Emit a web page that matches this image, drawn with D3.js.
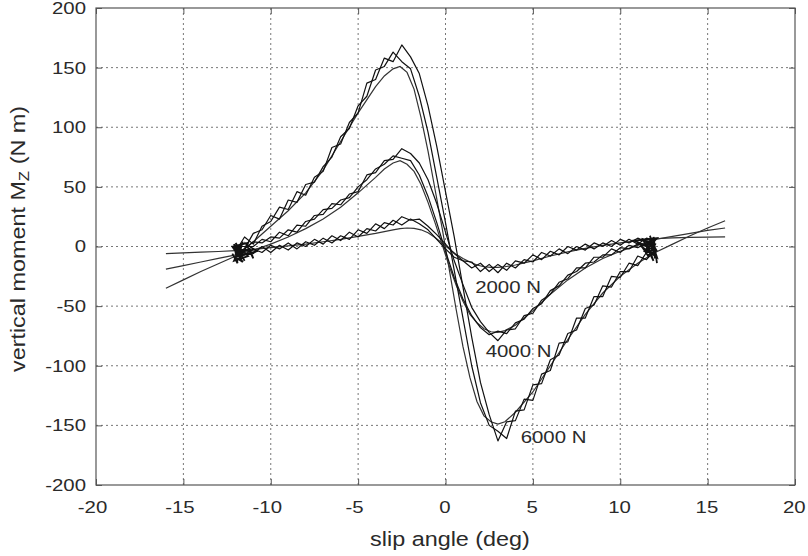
<!DOCTYPE html>
<html>
<head>
<meta charset="utf-8">
<script src="https://cdn.jsdelivr.net/npm/d3@7/dist/d3.min.js"></script>
<style>
  body { margin: 0; background: #fff; }
  svg { display: block; }
  .tick-label { font: 17px "Liberation Sans", Arial, sans-serif; fill: #2a2a2a; }
  .axis-title { font: 19.5px "Liberation Sans", Arial, sans-serif; fill: #2a2a2a; }
  .load-label { font: 17px "Liberation Sans", Arial, sans-serif; fill: #2a2a2a; }
</style>
</head>
<body>
<div id="chart"></div>
<script>
// ---- data ----
var xTicks = [-20, -15, -10, -5, 0, 5, 10, 15, 20];
var yTicks = [-200, -150, -100, -50, 0, 50, 100, 150, 200];

// measured sweeps, shared slip angle grid (deg)
var slipMeasured = [-12, -11.5, -11, -10.5, -10, -9.5, -9, -8.5, -8, -7.5, -7, -6.5, -6, -5.5, -5, -4.5, -4, -3.5, -3, -2.5,
  -2, -1.5, -1, -0.5, 0, 0.5, 1, 1.5, 2, 2.5, 3, 3.5, 4, 4.5, 5, 5.5, 6, 6.5, 7, 7.5, 8, 8.5, 9, 9.5, 10, 10.5, 11, 11.5, 12];

var mz6000a = [-4, 8, 2, 17, 21, 33, 31, 46, 43, 58, 63, 83, 86, 104, 112, 137, 140, 158, 155, 169,
  159, 145, 118, 84, 46, 8, -34, -76, -114, -141,
  -163, -147, -146, -128, -129, -107, -104, -81, -80, -60, -60, -42, -42, -25, -26, -14, -16, -5, -5];
var mz6000b = [-9, -2, 11, 14, 26, 23, 39, 37, 52, 54, 67, 75, 92, 99, 118, 126, 148, 151, 163, 155,
  149, 126, 96, 58, 20, -20, -60, -100, -131, -150,
  -155, -161, -138, -137, -116, -115, -95, -91, -73, -70, -52, -49, -33, -34, -21, -21, -8, -11, -3];
var mz4000a = [0, 0, 0, 6, 4, 12, 9, 18, 17, 26, 27, 36, 35, 44, 46, 60, 62, 72, 73, 82,
  78, 70, 56, 36, 12, -12, -32, -51, -63, -72,
  -79, -70, -69, -58, -56, -45, -40, -30, -27, -18, -18, -9, -9, -2, -5, 1, -1, 3, 4];
var mz4000b = [-5, -2, 4, 3, 8, 7, 14, 12, 21, 23, 31, 32, 39, 41, 50, 56, 65, 69, 76, 74,
  72, 60, 42, 20, -4, -26, -44, -58, -68, -74,
  -71, -73, -64, -61, -52, -48, -37, -33, -24, -21, -14, -13, -7, -7, -1, -2, 2, 1, 2];
var mz2000a = [-7, -2, -6, 0, -5, 1, -3, 3, 0, 6, 2, 9, 5, 12, 8, 15, 13, 20, 18, 25,
  22, 23, 17, 10, 2, -6, -12, -13, -21, -15,
  -22, -14, -18, -11, -13, -5, -8, -2, -6, 0, -3, 3, 0, 5, 1, 6, 2, 7, 5];
var mz2000b = [-5, -7, -2, -5, 1, -2, 3, -2, 4, 1, 7, 3, 9, 6, 14, 11, 19, 15, 22, 18,
  23, 19, 14, 6, -2, -9, -12, -18, -14, -21,
  -15, -20, -12, -14, -7, -11, -4, -7, 0, -3, 2, -2, 3, 0, 6, 3, 7, 4, 6];

// scribble where the sweeps turn round
var turnLeft = [[-12.2, -6], [-11.9, -14], [-12.1, 2], [-11.7, -10], [-12.0, 3], [-11.5, -12], [-11.9, 0], [-11.3, -8],
  [-12.1, -12], [-11.6, 4], [-11.8, -6], [-11.2, -2], [-11.0, -10], [-11.4, 2], [-10.8, -4], [-12.0, -9],
  [-11.6, -13], [-12.2, 0], [-11.3, 3], [-11.8, -11]];
var turnRight = [[12.1, -14], [11.9, 8], [12.0, -10], [11.7, 6], [12.1, -4], [11.5, 4], [11.9, -12], [11.3, 6],
  [12.0, 2], [11.6, -8], [11.1, 3], [11.8, -2], [10.8, 5], [12.1, 7], [11.4, -4], [12.0, -6],
  [11.7, 9], [12.1, -9], [11.2, 0], [11.9, 4]];

// model curves
var slipModel = [-16, -15, -14, -13, -12, -11, -10, -9, -8, -7, -6, -5, -4, -3.5, -3, -2.6, -2.2, -1.8, -1.4, -1, -0.6, -0.2,
  0.2, 0.6, 1, 1.4, 1.8, 2.2, 2.6, 3, 3.4, 4, 5, 6, 7, 8, 9, 10, 11, 12, 13, 14, 15, 16];
var model6000 = [-35, -28, -21, -14.5, -8, 4, 17, 30, 45, 64, 88, 112, 134, 143, 149, 151, 146, 132, 108, 80, 48, 16,
  -18, -52, -84, -110, -130, -142, -147, -149, -147, -139, -122, -100, -78, -57, -39, -25, -14, -5, 2, 9, 15.5, 21.6];
var model4000 = [-19, -16, -13, -10, -7, -3, 2, 8, 15, 23, 33, 45, 58, 65, 70, 72, 69, 63, 52, 37, 20, 2,
  -16, -32, -46, -57, -64, -69, -71.5, -72, -70.5, -66, -54, -40, -28, -18, -10, -4, 1, 6, 8.5, 11, 13.5, 15.5];
var model2000 = [-6, -5.4, -4.8, -4.2, -3.5, -2.5, -1, 0.5, 2, 4, 6, 8.5, 11, 12.5, 14, 15, 15.5, 15.2, 14, 11.5, 7.5, 3,
  -2, -6.5, -10, -13, -15.5, -17, -17.5, -17.5, -17, -15.5, -12, -8, -4.5, -1.5, 1, 3, 5, 6.5, 7.2, 7.6, 7.9, 8];

var loadLabels = ["2000 N", "4000 N", "6000 N"];
var labelSlip = [1.7, 2.3, 4.3];
var labelMoment = [-39, -93, -165];

// ---- layout ----
var margin = {top: 8, right: 13, bottom: 71, left: 96};
var width = 808 - margin.left - margin.right;
var height = 556 - margin.top - margin.bottom;
var wide = 1.2; // the original lettering is drawn wider than Arial

var svg = d3.select("#chart").append("svg")
    .attr("width", 808)
    .attr("height", 556)
  .append("g")
    .attr("transform", "translate(" + margin.left + "," + margin.top + ")");

var x = d3.scaleLinear().domain([-20, 20]).range([0, width]);
var y = d3.scaleLinear().domain([-200, 200]).range([height, 0]);

function widen(sel) {
  sel.each(function() {
    var t = d3.select(this);
    var x0 = +t.attr("x") || 0;
    t.attr("x", x0 / wide)
     .attr("transform", (t.attr("transform") || "") + " scale(" + wide + ",1)");
  });
}

// grid
svg.append("g").selectAll("line")
    .data(xTicks.slice(1, -1))
    .enter().append("line")
    .attr("x1", d => x(d)).attr("x2", d => x(d))
    .attr("y1", 0).attr("y2", height)
    .attr("stroke", "#777").attr("stroke-width", 1)
    .attr("stroke-dasharray", "2,3");

svg.append("g").selectAll("line")
    .data(yTicks.slice(1, -1))
    .enter().append("line")
    .attr("y1", d => y(d)).attr("y2", d => y(d))
    .attr("x1", 0).attr("x2", width)
    .attr("stroke", "#777").attr("stroke-width", 1)
    .attr("stroke-dasharray", "2,3");

// axes: ticks pointing inward on all four sides
svg.append("g")
    .attr("transform", "translate(0," + height + ")")
    .call(d3.axisBottom(x).tickValues(xTicks).tickSize(-6).tickPadding(16).tickFormat(d => String(d)))
    .call(g => g.selectAll("text").attr("class", "tick-label").attr("fill", null)
        .attr("dx", d => d < 0 ? -4 / wide : -1))
    .call(g => widen(g.selectAll("text")))
    .call(g => g.select(".domain").remove());

svg.append("g")
    .call(d3.axisLeft(y).tickValues(yTicks).tickSize(-6).tickPadding(10).tickFormat(d => String(d)))
    .call(g => g.selectAll("text").attr("class", "tick-label").attr("fill", null))
    .call(g => widen(g.selectAll("text")))
    .call(g => g.select(".domain").remove());

svg.append("g")
    .call(d3.axisTop(x).tickValues(xTicks).tickSize(-6).tickFormat(""))
    .call(g => g.select(".domain").remove());

svg.append("g")
    .attr("transform", "translate(" + width + ",0)")
    .call(d3.axisRight(y).tickValues(yTicks).tickSize(-6).tickFormat(""))
    .call(g => g.select(".domain").remove());

svg.selectAll(".tick line").attr("stroke", "#555");

svg.append("rect")
    .attr("width", width).attr("height", height)
    .attr("fill", "none").attr("stroke", "#555").attr("stroke-width", 1.2);

// curves
var line = d3.line().x(d => x(d[0])).y(d => y(d[1]));

function pairs(xs, ys) {
  return xs.map(function(v, i) { return [v, ys[i]]; });
}

var models = [model2000, model4000, model6000];
var measured = [mz2000a, mz2000b, mz4000a, mz4000b, mz6000a, mz6000b];

svg.append("g").selectAll("path")
    .data(models)
    .enter().append("path")
    .attr("d", d => line(pairs(slipModel, d)))
    .attr("fill", "none")
    .attr("stroke", "#333")
    .attr("stroke-width", 1.2);

svg.append("g").selectAll("path")
    .data(measured)
    .enter().append("path")
    .attr("d", d => line(pairs(slipMeasured, d)))
    .attr("fill", "none")
    .attr("stroke", "#111")
    .attr("stroke-width", 1.2)
    .attr("stroke-linejoin", "round");

svg.append("g").selectAll("path")
    .data([turnLeft, turnRight])
    .enter().append("path")
    .attr("d", d => line(d))
    .attr("fill", "none")
    .attr("stroke", "#111")
    .attr("stroke-width", 1.8);

// load labels
svg.append("g").selectAll("text")
    .data(loadLabels)
    .enter().append("text")
    .attr("class", "load-label")
    .attr("x", (d, i) => x(labelSlip[i]))
    .attr("y", (d, i) => y(labelMoment[i]))
    .text(d => d)
    .call(widen);

// axis titles
svg.append("text")
    .attr("class", "axis-title")
    .attr("x", 450 - margin.left)
    .attr("y", 546 - margin.top)
    .attr("text-anchor", "middle")
    .text("slip angle (deg)")
    .call(widen);

var yTitle = svg.append("text")
    .attr("class", "axis-title")
    .attr("transform", "translate(" + (25 - margin.left) + "," + (239 - margin.top) + ") rotate(-90) scale(" + wide + ",1)")
    .attr("text-anchor", "middle");
yTitle.append("tspan").text("vertical moment M");
yTitle.append("tspan").attr("baseline-shift", "-25%").attr("font-size", "14px").text("Z");
yTitle.append("tspan").text(" (N m)");
</script>
</body>
</html>
